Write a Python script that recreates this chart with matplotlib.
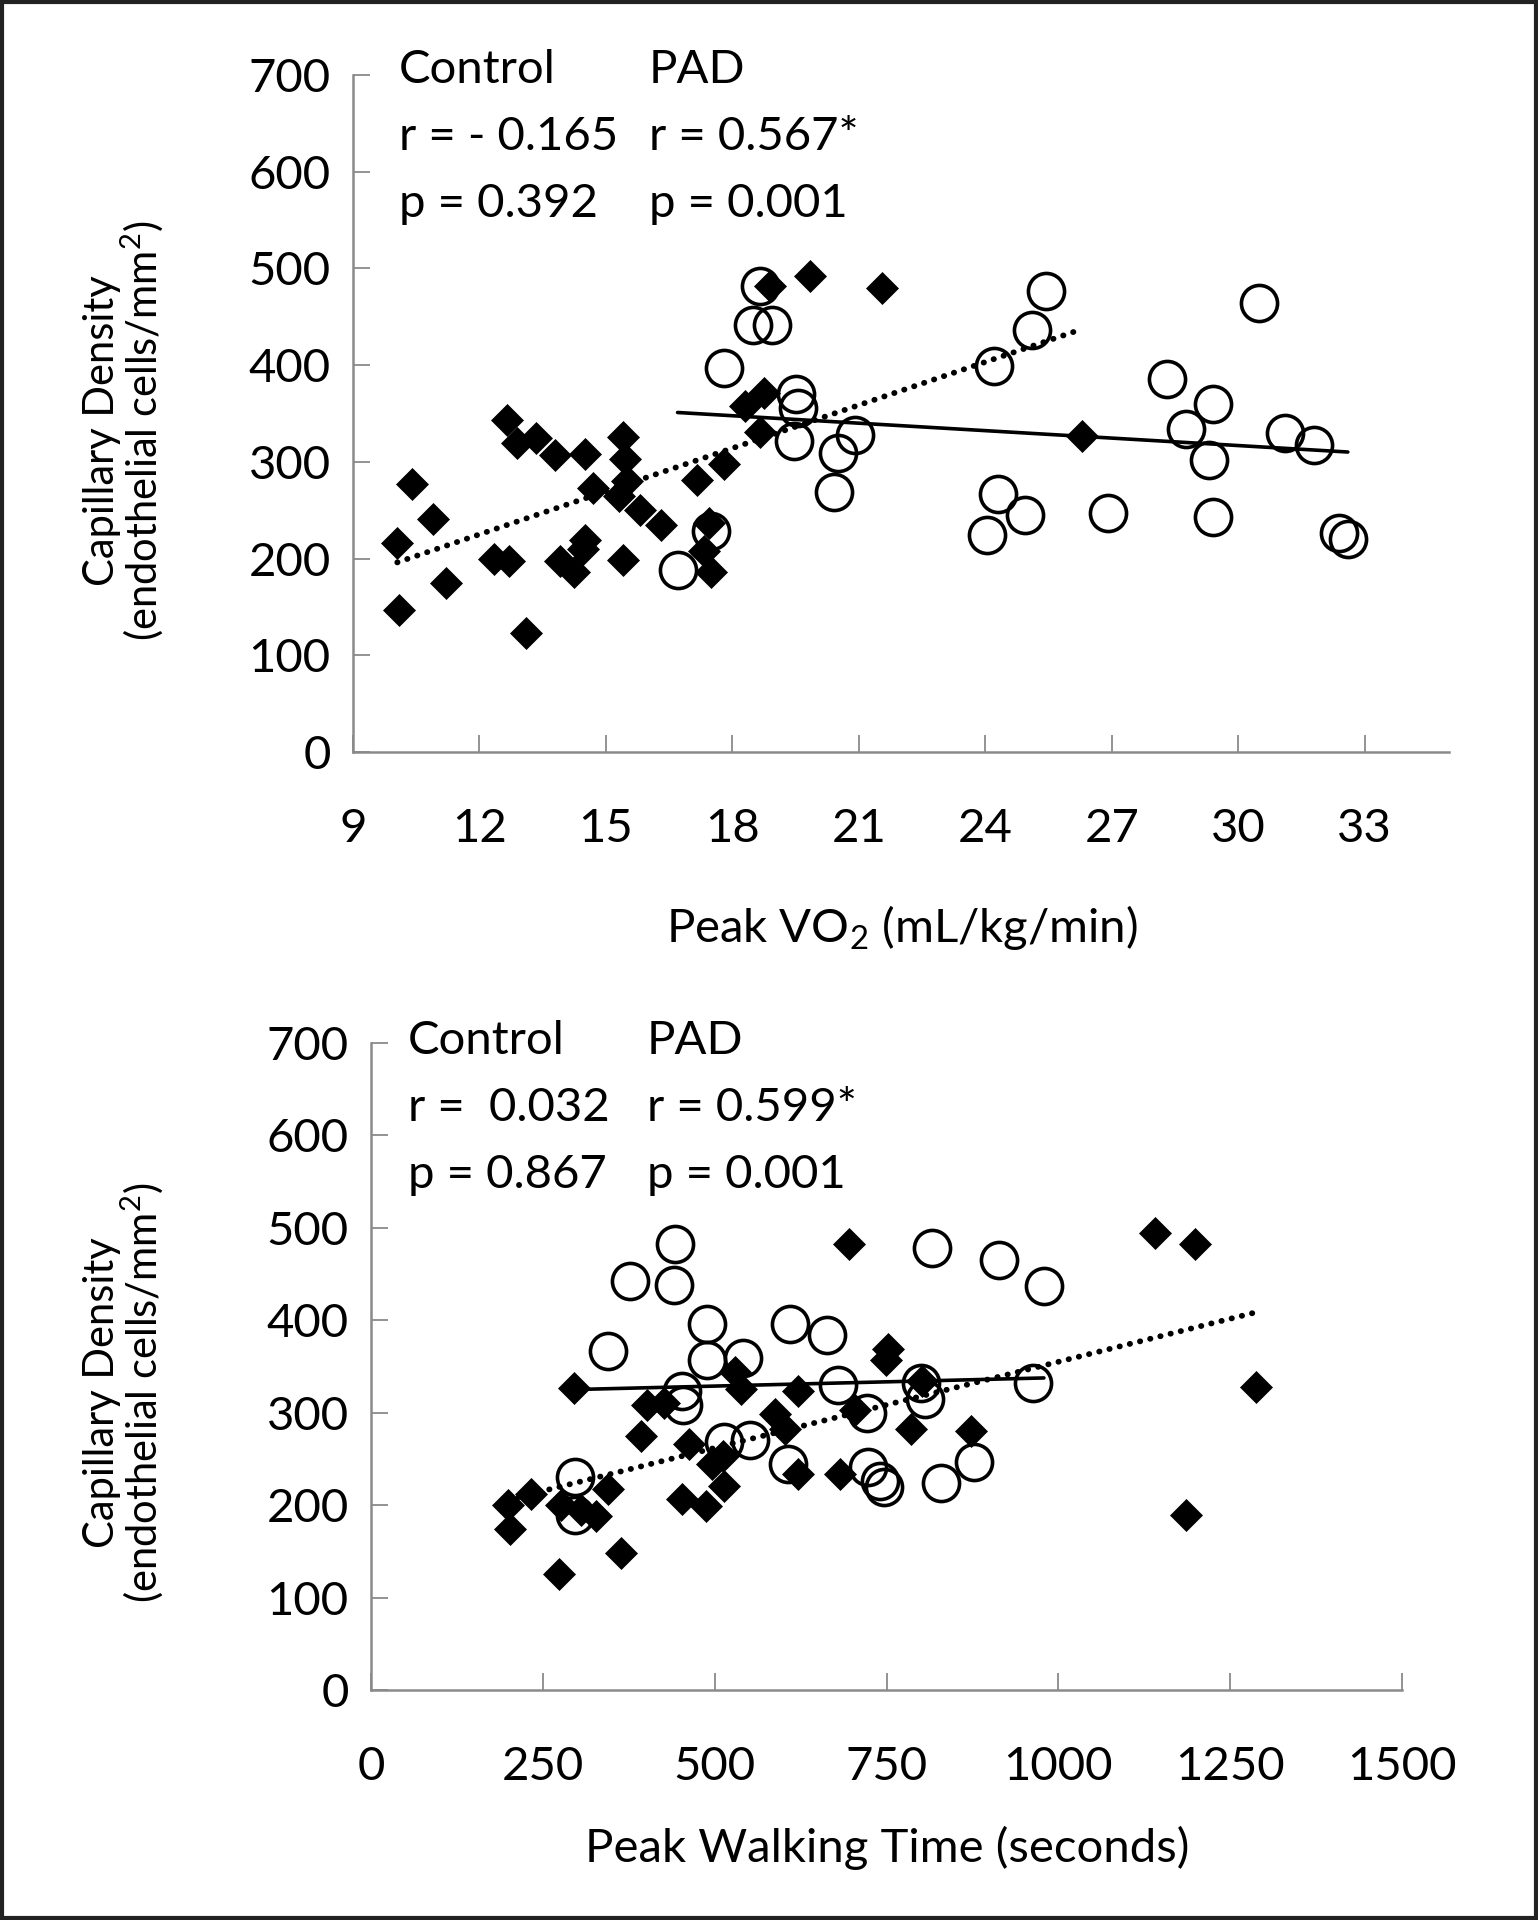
import numpy as np
import matplotlib
matplotlib.use("Agg")
import matplotlib.pyplot as plt
from matplotlib.patches import Rectangle

plt.rcParams['font.family'] = ['Lato', 'DejaVu Sans']
plt.rcParams['mathtext.fontset'] = 'custom'
plt.rcParams['mathtext.rm'] = 'Lato'
plt.rcParams['mathtext.it'] = 'Lato'

# ---------------- Top panel: Peak VO2 vs capillary density ----------------
pad_vo2 = [10.4, 10.9, 10.05, 11.2, 10.1, 12.65, 12.9, 13.35, 13.8, 14.5, 15.4, 15.45,
           15.5, 14.7, 15.3, 15.8, 16.3, 12.35, 12.7, 13.1, 13.9, 14.25, 14.5, 14.45,
           15.4, 17.15, 17.8, 17.45, 17.33, 17.5, 18.3, 18.75, 18.65, 18.9, 19.85,
           21.55, 26.3]
pad_cd_vo2 = [277, 241, 216, 175, 147, 343, 320, 325, 307, 308, 326, 303,
              280, 273, 265, 250, 235, 200, 198, 123, 197, 186, 219, 210,
              199, 281, 298, 237, 208, 186, 358, 371, 331, 482, 492,
              480, 327]
ctrl_vo2 = [25.45, 25.1, 24.2, 30.5, 28.3, 29.4, 28.75, 29.3, 31.1, 31.8, 24.3, 24.95,
            24.05, 26.9, 29.4, 32.4, 32.6, 18.65, 18.5, 18.95, 17.8, 19.5, 19.55,
            19.45, 20.5, 20.9, 20.4, 16.7, 17.5]
ctrl_cd_vo2 = [477, 436, 399, 464, 386, 360, 334, 302, 330, 317, 267, 245,
               224, 247, 243, 226, 220, 482, 441, 441, 397, 370, 356,
               322, 309, 328, 269, 188, 228]

# ---------------- Bottom panel: Peak walking time vs capillary density ----------------
pad_pwt = [200, 202, 233, 274, 295, 277, 305, 328, 345, 363, 393, 402, 426, 452, 463,
           487, 496, 512, 513, 529, 538, 588, 602, 621, 621, 682, 695, 704, 752, 749,
           785, 802, 873, 1140, 1199, 1287, 1186]
pad_cd_pwt = [200, 174, 212, 125, 327, 200, 195, 188, 217, 148, 275, 308, 310, 207, 266,
              199, 245, 253, 221, 344, 326, 299, 282, 324, 234, 234, 483, 303, 369, 357,
              282, 334, 280, 494, 483, 328, 189]
ctrl_pwt = [443, 441, 377, 345, 489, 489, 541, 452, 454, 609, 664, 679, 722, 513, 551,
            606, 723, 746, 740, 297, 297, 800, 816, 829, 806, 914, 979, 963, 878]
ctrl_cd_pwt = [483, 438, 443, 367, 396, 357, 359, 324, 308, 396, 384, 330, 300, 268, 270,
               244, 241, 220, 226, 230, 189, 332, 478, 224, 315, 465, 437, 332, 247]

y_ticks = [0, 100, 200, 300, 400, 500, 600, 700]
vo2_ticks = [9, 12, 15, 18, 21, 24, 27, 30, 33]
pwt_ticks = [0, 250, 500, 750, 1000, 1250, 1500]

top_stats = [("Control", "r = - 0.165", "p = 0.392"), ("PAD", "r = 0.567*", "p = 0.001")]
bot_stats = [("Control", "r =  0.032", "p = 0.867"), ("PAD", "r = 0.599*", "p = 0.001")]

W, H = 1538, 1920
fig = plt.figure(figsize=(W / 100, H / 100), dpi=100)
fig.patch.set_facecolor('white')


def fx(x):
    return x / W


def fy(y):
    return 1 - y / H


FS = 34
AXC = '#8a8a8a'


def make_axes(left, right, top, bottom):
    return fig.add_axes([fx(left), fy(bottom), fx(right) - fx(left), fy(top) - fy(bottom)])


def style(ax, xlim, xticks):
    ax.set_xlim(*xlim)
    ax.set_ylim(0, 700)
    ax.set_xticks(xticks)
    ax.set_yticks(y_ticks)
    for s in ['top', 'right']:
        ax.spines[s].set_visible(False)
    for s in ['left', 'bottom']:
        ax.spines[s].set_color(AXC)
        ax.spines[s].set_linewidth(1.8)
    ax.tick_params(axis='both', direction='in', length=12, width=1.3, color=AXC,
                   labelsize=FS)
    ax.tick_params(axis='x', pad=40)
    ax.tick_params(axis='y', pad=16)
    ax.set_facecolor('none')


def draw(ax, px, py, cx, cy):
    ax.plot(px, py, linestyle='none', marker='D', ms=16.5, mfc='black', mec='black',
            mew=0.5, zorder=3)
    ax.plot(cx, cy, linestyle='none', marker='o', ms=26, mfc='none', mec='black',
            mew=2.6, zorder=3)
    # trendlines (least squares), drawn over the data range
    for xs, ys, ls, lw in [(px, py, (0, (0.05, 1.75)), 4.2), (cx, cy, '-', 2.6)]:
        xs = np.asarray(xs, float)
        ys = np.asarray(ys, float)
        m, b = np.polyfit(xs, ys, 1)
        xx = np.array([xs.min(), xs.max()])
        ax.plot(xx, m * xx + b, color='black', linestyle=ls, lw=lw,
                dash_capstyle='round', solid_capstyle='round', zorder=4)


# Top axes
ax1 = make_axes(353, 1449, 75, 752)
style(ax1, (9, 35), vo2_ticks)
draw(ax1, pad_vo2, pad_cd_vo2, ctrl_vo2, ctrl_cd_vo2)

# Bottom axes
ax2 = make_axes(371, 1402, 1043, 1690)
style(ax2, (0, 1500), pwt_ticks)
draw(ax2, pad_pwt, pad_cd_pwt, ctrl_pwt, ctrl_cd_pwt)

# Stats text
for (col_x, rows_y, stats) in [((399, 649), (70, 137, 204), top_stats),
                               ((408, 647), (1041, 1108, 1175), bot_stats)]:
    for cx_, st in zip(col_x, stats):
        for yy, t in zip(rows_y, st):
            fig.text(fx(cx_), fy(yy), t, fontsize=FS, ha='left', va='center')

# Axis labels
YFS = 30
for (x1, x2, yc) in [(102, 142, 431), (102, 142, 1393)]:
    fig.text(fx(x1), fy(yc), "Capillary Density", rotation=90, fontsize=YFS,
             ha='center', va='center')
    fig.text(fx(x2), fy(yc), "(endothelial cells/mm$^{2}$)", rotation=90, fontsize=YFS,
             ha='center', va='center')

fig.text(fx(902), fy(927), "Peak VO$_{2}$ (mL/kg/min)", fontsize=FS, ha='center', va='center')
fig.text(fx(887), fy(1848), "Peak Walking Time (seconds)", fontsize=FS, ha='center', va='center')

# Outer frame
fig.patches.append(Rectangle((0.001, 0.001), 0.998, 0.998, transform=fig.transFigure,
                             fill=False, edgecolor='#222222', lw=3))

fig.savefig('out.png', dpi=100, facecolor='white')
